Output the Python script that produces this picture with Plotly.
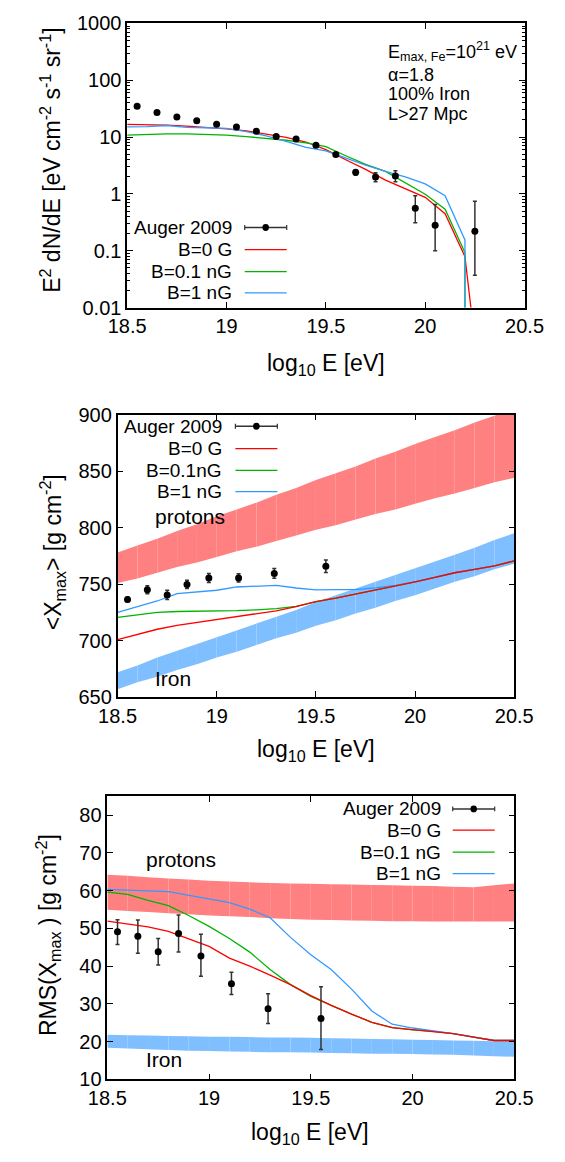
import plotly.graph_objects as go

FONT = "Liberation Sans, Arial, Helvetica, sans-serif"
W, H = 565, 1162

# ---------------- data: energy spectrum ----------------
E_AUGER_SPEC = [18.55, 18.65, 18.75, 18.85, 18.95, 19.05, 19.15, 19.25, 19.35,
                19.45, 19.55, 19.65, 19.75, 19.85, 19.95, 20.05, 20.25]
FLUX_AUGER = [34.9, 27.1, 22.5, 19.5, 16.8, 15.1, 12.7, 10.3, 9.3,
              7.2, 4.95, 2.41, 1.98, 2.06, 0.56, 0.28, 0.22]
FLUX_AUGER_HI = [35.5, 27.6, 22.9, 19.8, 17.0, 15.3, 12.9, 10.5, 9.5,
                 7.4, 5.2, 2.67, 2.35, 2.57, 0.93, 0.65, 0.74]
FLUX_AUGER_LO = [34.3, 26.6, 22.1, 19.2, 16.6, 14.9, 12.5, 10.1, 9.1,
                 7.0, 4.75, 2.14, 1.64, 1.64, 0.31, 0.10, 0.037]

E_SPEC_B0 = [18.5, 18.6, 18.7, 18.8, 18.9, 19.0, 19.1, 19.2, 19.3, 19.4,
             19.5, 19.6, 19.7, 19.8, 19.9, 20.0, 20.1, 20.2, 20.3]
FLUX_B0 = [16.8, 16.6, 16.3, 15.6, 14.8, 14.0, 12.9, 11.4, 9.9, 8.2,
           6.0, 4.0, 2.7, 1.75, 1.25, 0.87, 0.45, 0.079, 0.00008]

E_SPEC_CUT = [18.5, 18.6, 18.7, 18.8, 18.9, 19.0, 19.1, 19.2, 19.3, 19.4,
              19.5, 19.6, 19.7, 19.8, 19.9, 20.0, 20.1, 20.2, 20.2]
FLUX_B01 = [10.8, 11.2, 11.4, 11.4, 11.2, 10.8, 10.2, 9.6, 8.8, 7.9,
            6.8, 4.7, 3.3, 2.5, 1.6, 0.99, 0.54, 0.093, 0.00001]
FLUX_B1 = [15.1, 15.3, 16.0, 14.8, 14.6, 14.2, 12.5, 10.5, 8.4, 6.6,
           5.7, 4.3, 3.2, 2.5, 2.0, 1.5, 0.93, 0.155, 0.00001]

# ---------------- data: composition ----------------
E_GRID = [18.5, 18.6, 18.7, 18.8, 18.9, 19.0, 19.1, 19.2, 19.3, 19.4, 19.5,
          19.6, 19.7, 19.8, 19.9, 20.0, 20.1, 20.2, 20.3, 20.4, 20.5]

E_AUGER_XMAX = [18.55, 18.65, 18.75, 18.85, 18.96, 19.11, 19.29, 19.55]
XMAX_AUGER = [736.4, 745.0, 740.4, 749.7, 755.4, 755.4, 759.4, 765.8]
XMAX_AUGER_ERR = [2.0, 3.5, 4.0, 3.7, 4.0, 3.6, 4.3, 5.5]

XMAX_P_HI = [778, 784, 790, 797, 803, 810, 816, 822, 829, 835, 842,
             848, 854, 861, 867, 874, 880, 886, 893, 899, 906]
XMAX_P_LO = [751, 755, 760, 765, 769, 774, 779, 783, 788, 793, 798,
             802, 807, 812, 816, 821, 826, 830, 835, 840, 844]
XMAX_FE_HI = [672, 678, 685, 691, 697, 703, 709, 715, 721, 727, 734,
              740, 746, 752, 758, 764, 770, 776, 782, 789, 795]
XMAX_FE_LO = [657, 663, 668, 674, 679, 685, 690, 696, 702, 707, 713,
              718, 724, 729, 735, 740, 746, 752, 757, 763, 768]

XMAX_B0 = [700.9, 705.5, 710.0, 713.5, 716.0, 718.5, 721.0, 723.5, 726.3, 730.0, 734.4,
           737.5, 741.0, 744.5, 748.0, 752.0, 756.0, 760.0, 763.0, 766.0, 770.5]
XMAX_B01 = [720.5, 722.8, 724.9, 725.7, 725.9, 726.0, 726.5, 727.2, 728.3, 730.2, 734.4,
            737.5, 741.0, 744.5, 748.0, 752.0, 756.0, 760.0, 763.0, 766.0, 770.5]
XMAX_B1 = [724.9, 729.8, 735.0, 741.6, 743.0, 744.5, 747.4, 748.2, 748.8, 746.5, 744.8,
           745.0, 745.0, 746.7, 748.8, 752.0, 756.0, 760.0, 763.0, 766.0, 770.5]

RMS_AUGER = [49.1, 47.9, 43.8, 48.6, 42.7, 35.3, 28.7, 26.1]
RMS_AUGER_HI = [52.3, 52.2, 47.3, 53.5, 48.4, 38.4, 32.7, 34.5]
RMS_AUGER_LO = [45.7, 43.4, 40.3, 43.7, 37.3, 32.5, 24.8, 17.9]

RMS_P_HI = [64.2, 63.9, 63.5, 63.2, 62.9, 62.6, 62.4, 62.2, 62.0, 61.9, 61.8,
            61.7, 61.6, 61.5, 61.4, 61.3, 61.2, 61.0, 60.9, 61.4, 61.9]
RMS_P_LO = [54.9, 54.6, 54.3, 54.0, 53.7, 53.4, 53.2, 53.0, 52.7, 52.5, 52.3,
            52.2, 52.1, 52.0, 51.9, 51.9, 51.8, 51.8, 51.8, 51.8, 51.8]
RMS_FE_HI = [21.8, 21.7, 21.6, 21.5, 21.4, 21.3, 21.3, 21.2, 21.1, 21.1, 21.0,
             20.9, 20.8, 20.7, 20.6, 20.5, 20.4, 20.3, 20.2, 20.1, 20.1]
RMS_FE_LO = [18.4, 18.2, 18.0, 17.8, 17.6, 17.5, 17.4, 17.3, 17.2, 17.2, 17.1,
             17.0, 16.9, 16.8, 16.8, 16.7, 16.6, 16.5, 16.3, 16.1, 16.0]

RMS_B0 = [51.9, 51.2, 50.4, 49.2, 47.3, 45.2, 42.1, 40.0, 37.6, 35.1, 32.2,
          29.6, 27.3, 25.1, 23.7, 23.1, 22.7, 22.1, 21.2, 20.3, 20.3]
RMS_B01 = [59.6, 59.0, 57.4, 56.0, 53.4, 50.5, 47.3, 43.7, 39.1, 35.1, 32.0,
           29.6, 27.3, 25.1, 23.7, 23.1, 22.7, 22.1, 21.2, 20.3, 20.3]
RMS_B1 = [60.3, 60.0, 59.9, 59.7, 58.8, 57.9, 56.8, 55.1, 52.8, 47.6, 43.0,
          39.1, 33.9, 28.1, 24.6, 23.6, 22.9, 22.1, 21.2, 20.3, 20.3]

# tick labels
X_TICKS = [18.5, 19.0, 19.5, 20.0, 20.5]
X_TICKTEXT = ["18.5", "19", "19.5", "20", "20.5"]
FLUX_TICKS = [0.01, 0.1, 1, 10, 100, 1000]
FLUX_TICKTEXT = ["0.01", "0.1", "1", "10", "100", "1000"]

# ---------------- styling ----------------
RED = "#ff0000"
GREEN = "#00b400"
BLUE = "#3399ff"
BAND_P = "#ff8080"
BAND_FE = "#80bfff"
DOT = "#000000"
ERR = "#333333"

# panel frames in pixels: left, top, right, bottom
BOX = {
    1: (116.0, 12.7, 542.0, 302.3),
    2: (105.7, 411.3, 531.0, 699.3),
    3: (94.7, 800.3, 531.0, 1089.0),
}


def px(x):
    return x / W


def py(y):
    return 1 - y / H


fig = go.Figure()


def ax_names(i):
    return ("x" if i == 1 else f"x{i}", "y" if i == 1 else f"y{i}")


def add_band(i, lo, hi, color):
    xa, ya = ax_names(i)
    for k in range(len(E_GRID) - 1):
        xs = [E_GRID[k], E_GRID[k + 1], E_GRID[k + 1], E_GRID[k], E_GRID[k]]
        ys = [lo[k], lo[k + 1], hi[k + 1], hi[k], lo[k]]
        fig.add_trace(go.Scatter(x=xs, y=ys, mode="lines", fill="toself",
                                 fillcolor=color, line=dict(width=0),
                                 hoverinfo="skip", showlegend=False,
                                 xaxis=xa, yaxis=ya))


def add_curve(i, x, y, color):
    xa, ya = ax_names(i)
    fig.add_trace(go.Scatter(x=x, y=y, mode="lines",
                             line=dict(color=color, width=1.3),
                             showlegend=False, xaxis=xa, yaxis=ya))


def add_points(i, x, y, hi, lo):
    xa, ya = ax_names(i)
    plus = [h - v for h, v in zip(hi, y)]
    minus = [v - l for v, l in zip(y, lo)]
    fig.add_trace(go.Scatter(
        x=x, y=y, mode="markers",
        marker=dict(color=DOT, size=7),
        error_y=dict(type="data", symmetric=False, array=plus, arrayminus=minus,
                     color=ERR, thickness=1.5, width=2),
        showlegend=False, xaxis=xa, yaxis=ya))


# panel 1: spectrum
add_curve(1, E_SPEC_B0, FLUX_B0, RED)
add_curve(1, E_SPEC_CUT, FLUX_B01, GREEN)
add_curve(1, E_SPEC_CUT, FLUX_B1, BLUE)
add_points(1, E_AUGER_SPEC, FLUX_AUGER, FLUX_AUGER_HI, FLUX_AUGER_LO)

# panel 2: <Xmax>
add_band(2, XMAX_P_LO, XMAX_P_HI, BAND_P)
add_band(2, XMAX_FE_LO, XMAX_FE_HI, BAND_FE)
add_curve(2, E_GRID, XMAX_B01, GREEN)
add_curve(2, E_GRID, XMAX_B1, BLUE)
add_curve(2, E_GRID, XMAX_B0, RED)
add_points(2, E_AUGER_XMAX, XMAX_AUGER,
           [v + e for v, e in zip(XMAX_AUGER, XMAX_AUGER_ERR)],
           [v - e for v, e in zip(XMAX_AUGER, XMAX_AUGER_ERR)])

# panel 3: RMS(Xmax)
add_band(3, RMS_P_LO, RMS_P_HI, BAND_P)
add_band(3, RMS_FE_LO, RMS_FE_HI, BAND_FE)
add_curve(3, E_GRID, RMS_B01, GREEN)
add_curve(3, E_GRID, RMS_B1, BLUE)
add_curve(3, E_GRID, RMS_B0, RED)
add_points(3, E_AUGER_XMAX, RMS_AUGER, RMS_AUGER_HI, RMS_AUGER_LO)


def axis_style():
    return dict(showline=True, linecolor="black", linewidth=1.5, mirror="allticks",
                ticks="inside", ticklen=6, tickwidth=1, tickcolor="black",
                showgrid=False, zeroline=False,
                tickfont=dict(size=20, color="black", family=FONT))


layout = dict(width=W, height=H, margin=dict(l=0, r=0, t=0, b=0),
              paper_bgcolor="white", plot_bgcolor="white",
              font=dict(family=FONT, color="black"), showlegend=False)

for i, (l, t, r, b) in BOX.items():
    xk = "xaxis" if i == 1 else f"xaxis{i}"
    yk = "yaxis" if i == 1 else f"yaxis{i}"
    xa, ya = ax_names(i)
    xs = axis_style()
    xs.update(domain=[px(l), px(r)], anchor=ya, range=[18.5, 20.5],
              tickmode="array", tickvals=X_TICKS, ticktext=X_TICKTEXT)
    ys = axis_style()
    ys.update(domain=[py(b), py(t)], anchor=xa)
    if i == 1:
        ys.update(type="log", range=[-2, 3], tickmode="array",
                  tickvals=FLUX_TICKS, ticktext=FLUX_TICKTEXT,
                  minor=dict(ticks="inside", ticklen=3, tickcolor="black",
                             dtick="D1", showgrid=False))
    elif i == 2:
        ys.update(range=[650, 900], tickmode="linear", tick0=650, dtick=50)
    else:
        ys.update(range=[10, 85], tickmode="linear", tick0=10, dtick=10)
    layout[xk] = xs
    layout[yk] = ys

fig.update_layout(**layout)

annotations = []
shapes = []


def text_px(x, y, s, size, xanchor="center", angle=0):
    annotations.append(dict(x=px(x), y=py(y), xref="paper", yref="paper",
                            text=s, showarrow=False, xanchor=xanchor,
                            yanchor="middle", textangle=angle,
                            font=dict(size=size, color="black", family=FONT)))


# axis titles
XTITLE = "log<sub>10</sub> E [eV]"
text_px(329, 360, XTITLE, 23)
text_px(318, 754, XTITLE, 23)
text_px(312, 1144, XTITLE, 23)
text_px(34, 152, "E<sup>2</sup> dN/dE [eV cm<sup>-2</sup> s<sup>-1</sup> sr<sup>-1</sup>]", 23, angle=-90)
text_px(35, 552, "&lt;X<sub>max</sub>&gt; [g cm<sup>-2</sup>]", 23, angle=-90)
text_px(31, 942, "RMS(X<sub>max</sub> ) [g cm<sup>-2</sup>]", 23, angle=-90)

# parameter box, spectrum panel
text_px(393, 41.5, "E<sub>max, Fe</sub>=10<sup>21</sup> eV", 18, xanchor="left")
text_px(393, 65.5, "α=1.8", 18, xanchor="left")
text_px(393, 85, "100% Iron", 18, xanchor="left")
text_px(393, 105, "L>27 Mpc", 18, xanchor="left")


# band labels (data coordinates)
def text_data(i, x, y, s):
    xa, ya = ax_names(i)
    annotations.append(dict(x=x, y=y, xref=xa, yref=ya, text=s, showarrow=False,
                            xanchor="left", yanchor="middle",
                            font=dict(size=21, color="black", family=FONT)))


text_data(2, 18.68, 810, "protons")
text_data(2, 18.68, 666, "Iron")
text_data(3, 18.68, 68.2, "protons")
text_data(3, 18.68, 15.2, "Iron")


# key drawn in gnuplot style: label on the left, sample on the right
def key(text_right, x0, x1, ys, labels):
    styles = ["data", RED, GREEN, BLUE]
    for y, lab, st in zip(ys, labels, styles):
        text_px(text_right, y, lab, 19, xanchor="right")
        if st == "data":
            shapes.append(dict(type="line", xref="paper", yref="paper",
                               x0=px(x0), x1=px(x1), y0=py(y), y1=py(y),
                               line=dict(color=ERR, width=1.5)))
            for xe in (x0, x1):
                shapes.append(dict(type="line", xref="paper", yref="paper",
                                   x0=px(xe), x1=px(xe), y0=py(y - 2.5), y1=py(y + 2.5),
                                   line=dict(color=ERR, width=1.2)))
            cx = (x0 + x1) / 2
            shapes.append(dict(type="circle", xref="paper", yref="paper",
                               x0=px(cx - 3.5), x1=px(cx + 3.5),
                               y0=py(y + 3.5), y1=py(y - 3.5),
                               fillcolor=DOT, line=dict(color=DOT, width=0)))
        else:
            shapes.append(dict(type="line", xref="paper", yref="paper",
                               x0=px(x0), x1=px(x1), y0=py(y), y1=py(y),
                               line=dict(color=st, width=1.3)))


key(230.5, 242, 287, [220.7, 243.3, 265.7, 287.3],
    ["Auger 2009", "B=0 G", "B=0.1 nG", "B=1 nG"])
key(220.2, 232, 277, [423.3, 446.0, 468.3, 490.0],
    ["Auger 2009", "B=0 G", "B=0.1nG", "B=1 nG"])
key(454.2, 465, 510, [813.3, 835.0, 857.3, 879.3],
    ["Auger 2009", "B=0 G", "B=0.1 nG", "B=1 nG"])

fig.update_layout(annotations=annotations, shapes=shapes)
fig.write_html("out.html")
